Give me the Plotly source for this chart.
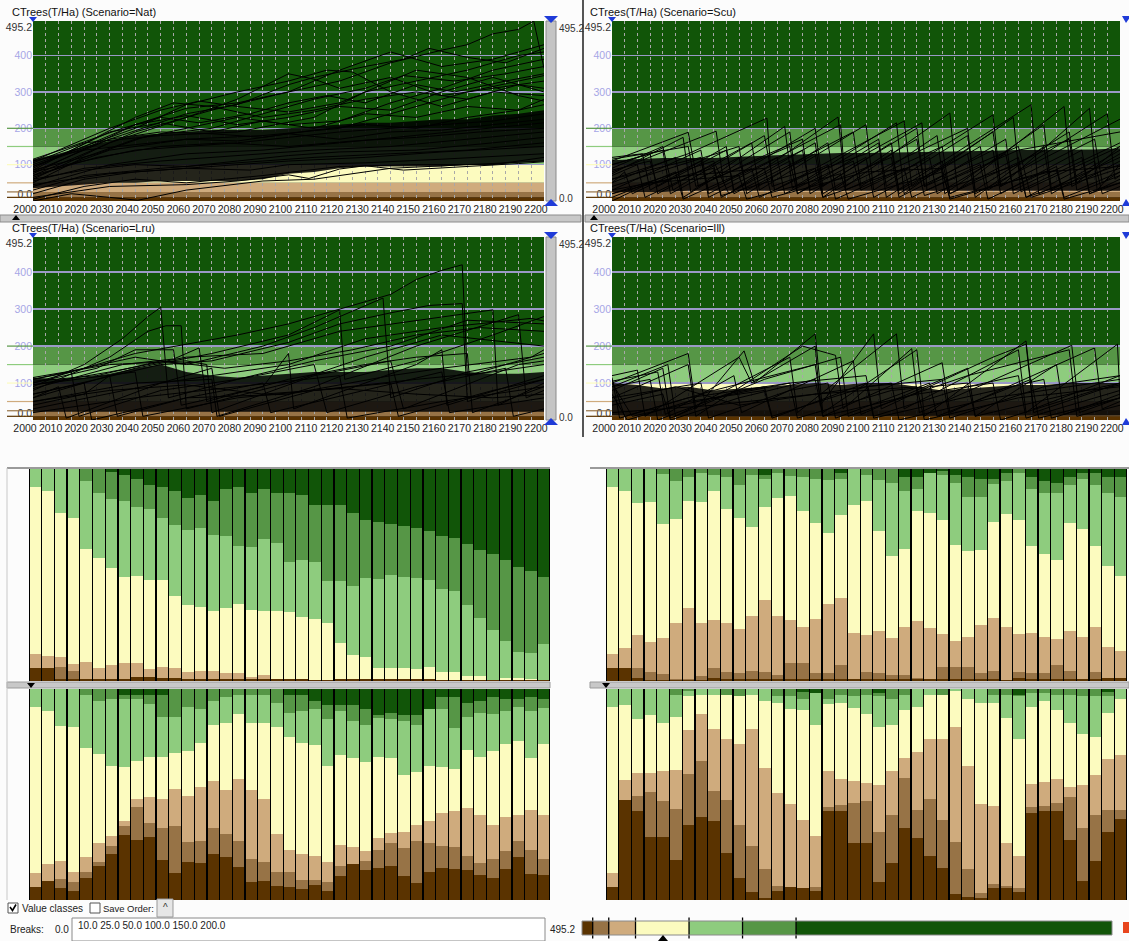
import plotly.graph_objects as go

# ---------------------------------------------------------------- data
BREAKS = [0.0, 10.0, 25.0, 50.0, 100.0, 150.0, 200.0, 495.2]
BREAK_TEXT = "10.0 25.0 50.0 100.0 150.0 200.0"
CLASS_COLORS = ["#5a3300", "#977346", "#cfab7d", "#fcfbbf", "#8ecc7e", "#569646", "#115508"]
SCENARIOS = ["Nat", "Scu", "Lru", "Ill"]
X_TICKS = list(range(2000, 2201, 10))
Y_TICKS = [0.0, 100, 200, 300, 400, 495.2]
BAR_YEARS = list(range(2000, 2201, 5))
DENSE_YEARS = list(range(2000, 2201, 10))

# dense core of the stand trajectories (lower / upper edge of the black mass)
NAT_DENSE_LO = [35, 40, 45, 50, 50, 55, 55, 55, 55, 60, 75, 80, 90, 95, 95, 95, 95, 100, 100, 105, 110]
NAT_DENSE_HI = [115, 130, 150, 165, 180, 185, 190, 195, 195, 195, 200, 205, 210, 215, 215, 220, 225, 225, 235, 240, 250]
SCU_DENSE_LO = [25, 25, 25, 28, 28, 28, 28, 28, 28, 28, 28, 28, 28, 28, 28, 28, 28, 28, 28, 28, 28]
SCU_DENSE_HI = [112, 115, 118, 118, 118, 122, 125, 128, 130, 132, 132, 133, 135, 135, 135, 138, 140, 140, 140, 142, 145]
LRU_DENSE_LO = [22, 22, 22, 22, 22, 22, 22, 22, 22, 22, 22, 22, 22, 22, 22, 22, 22, 22, 22, 22, 22]
LRU_DENSE_HI = [115, 110, 115, 125, 140, 150, 130, 120, 115, 120, 125, 130, 130, 130, 135, 140, 140, 130, 125, 125, 130]
ILL_DENSE_LO = [12, 10, 10, 10, 10, 10, 10, 10, 10, 10, 10, 10, 10, 10, 10, 10, 10, 10, 10, 10, 12]
ILL_DENSE_HI = [100, 95, 85, 90, 80, 85, 90, 95, 100, 95, 100, 100, 90, 80, 85, 90, 95, 95, 100, 100, 100]

# individual trajectories (year, CTrees) vertices
NAT_LINES = [
    [(2000, 95), (2020, 150), (2040, 210), (2060, 255), (2080, 270), (2100, 300), (2120, 330), (2140, 380), (2160, 415), (2170, 430), (2180, 460), (2190, 472), (2196, 495), (2200, 365)],
    [(2000, 80), (2030, 170), (2060, 240), (2080, 265), (2100, 320), (2110, 340), (2130, 370), (2145, 390), (2155, 420), (2170, 395), (2185, 380), (2200, 420)],
    [(2000, 70), (2040, 190), (2070, 250), (2100, 300), (2120, 360), (2140, 410), (2160, 370), (2180, 390), (2200, 430)],
    [(2000, 60), (2030, 160), (2060, 230), (2080, 280), (2100, 350), (2110, 335), (2120, 310), (2140, 340), (2160, 290), (2180, 310), (2200, 330)],
    [(2000, 100), (2040, 200), (2060, 265), (2080, 300), (2100, 330), (2115, 360), (2125, 355), (2140, 300), (2160, 260), (2180, 300), (2200, 290)],
    [(2000, 85), (2040, 230), (2055, 270), (2070, 260), (2090, 230), (2110, 250), (2130, 280), (2150, 300), (2170, 280), (2190, 320), (2200, 310)],
    [(2000, 110), (2030, 200), (2050, 250), (2065, 275), (2080, 260), (2100, 245), (2120, 270), (2140, 330), (2150, 360), (2170, 340), (2190, 290), (2200, 275)],
    [(2000, 75), (2040, 210), (2060, 235), (2080, 210), (2100, 230), (2120, 260), (2140, 250), (2160, 300), (2180, 340), (2200, 300)],
    [(2000, 90), (2030, 190), (2050, 215), (2070, 190), (2090, 220), (2110, 200), (2130, 240), (2150, 230), (2170, 260), (2190, 250), (2200, 280)],
    [(2000, 50), (2020, 120), (2040, 170), (2060, 200), (2080, 230), (2100, 210), (2120, 220), (2140, 270), (2160, 310), (2180, 360), (2200, 390)],
    [(2000, 105), (2020, 160), (2050, 180), (2080, 190), (2110, 230), (2130, 300), (2150, 330), (2170, 360), (2190, 400), (2200, 410)],
    [(2000, 65), (2030, 140), (2060, 170), (2090, 180), (2120, 200), (2150, 260), (2170, 300), (2190, 330), (2200, 345)],
    [(2000, 40), (2030, 100), (2060, 130), (2090, 140), (2120, 160), (2150, 180), (2180, 200), (2200, 215)],
    [(2000, 55), (2020, 90), (2050, 110), (2080, 125), (2110, 140), (2140, 150), (2170, 170), (2200, 190)],
    [(2000, 20), (2020, 60), (2040, 80), (2070, 95), (2100, 110), (2130, 120), (2160, 135), (2200, 150)],
    [(2000, 0), (2015, 20), (2030, 10), (2041, 2), (2060, 30), (2090, 55), (2110, 60), (2140, 90), (2170, 100), (2200, 110)],
    [(2000, 5), (2020, 40), (2040, 60), (2060, 50), (2090, 70), (2120, 95), (2150, 100), (2180, 100), (2200, 120)],
    [(2000, 80), (2020, 110), (2040, 140), (2060, 150), (2080, 160), (2100, 175), (2120, 190), (2140, 200), (2160, 210), (2180, 220), (2200, 240)],
    [(2000, 95), (2010, 120), (2030, 170), (2050, 190), (2070, 185), (2090, 175), (2110, 195), (2130, 210), (2150, 200), (2170, 230), (2190, 250), (2200, 265)],
    [(2000, 60), (2020, 85), (2040, 100), (2060, 95), (2080, 110), (2100, 125), (2120, 135), (2150, 140), (2180, 160), (2200, 175)],
    [(2000, 45), (2030, 75), (2060, 90), (2085, 85), (2100, 100), (2130, 105), (2160, 115), (2200, 130)],
    [(2000, 110), (2020, 140), (2040, 155), (2060, 170), (2080, 165), (2100, 185), (2120, 170), (2140, 190), (2160, 195), (2180, 210), (2200, 225)],
    [(2000, 70), (2025, 120), (2050, 150), (2075, 160), (2100, 150), (2125, 165), (2150, 175), (2175, 190), (2200, 200)],
    [(2000, 30), (2020, 70), (2050, 90), (2080, 105), (2110, 120), (2140, 130), (2170, 140), (2200, 160)],
    [(2000, 10), (2030, 40), (2060, 45), (2080, 55), (2100, 72), (2108, 62), (2120, 88), (2130, 97), (2145, 85), (2160, 90), (2175, 97), (2190, 103), (2200, 108)],
    [(2000, 115), (2015, 150), (2035, 200), (2050, 230), (2065, 215), (2085, 240), (2100, 270), (2115, 290), (2130, 270), (2150, 320), (2165, 300), (2185, 330), (2200, 350)],
    [(2000, 85), (2025, 130), (2045, 180), (2070, 200), (2095, 250), (2110, 280), (2130, 310), (2145, 345), (2165, 330), (2185, 350), (2200, 370)],
]

SCU_LINES = [
    [(2000, 60), (2030, 130), (2061, 228), (2063, 40), (2100, 130), (2122, 215), (2124, 30), (2160, 140), (2200, 190)],
    [(2000, 20), (2040, 110), (2046, 20), (2089, 231), (2092, 30), (2130, 150), (2133, 20), (2180, 170), (2183, 30), (2200, 80)],
    [(2000, 110), (2030, 189), (2034, 40), (2060, 125), (2075, 170), (2078, 20), (2120, 200), (2123, 40), (2160, 150), (2165, 10), (2200, 90)],
    [(2000, 80), (2041, 192), (2044, 50), (2080, 200), (2083, 40), (2110, 160), (2113, 20), (2150, 190), (2153, 40), (2190, 170), (2193, 50), (2200, 80)],
    [(2000, 30), (2035, 140), (2038, 20), (2090, 210), (2092, 40), (2133, 242), (2136, 30), (2178, 260), (2181, 40), (2200, 110)],
    [(2000, 50), (2025, 120), (2028, 10), (2070, 190), (2073, 20), (2105, 160), (2108, 10), (2165, 265), (2168, 20), (2200, 120)],
    [(2000, 100), (2015, 130), (2018, 20), (2055, 160), (2058, 30), (2100, 210), (2103, 30), (2150, 237), (2153, 40), (2188, 255), (2191, 30), (2200, 100)],
    [(2000, 90), (2020, 150), (2024, 30), (2060, 180), (2064, 30), (2115, 220), (2118, 40), (2145, 150), (2148, 30), (2195, 240), (2198, 60), (2200, 70)],
    [(2000, 40), (2050, 150), (2053, 20), (2085, 160), (2088, 30), (2140, 200), (2143, 20), (2200, 225)],
    [(2000, 70), (2010, 100), (2013, 10), (2040, 100), (2043, 10), (2070, 110), (2073, 20), (2100, 120), (2103, 10), (2130, 110), (2133, 20), (2160, 120), (2163, 10), (2190, 110), (2193, 20), (2200, 40)],
    [(2000, 10), (2025, 80), (2028, 5), (2055, 90), (2058, 10), (2085, 100), (2088, 5), (2115, 90), (2118, 10), (2145, 100), (2148, 5), (2175, 95), (2178, 10), (2200, 70)],
    [(2000, 100), (2020, 140), (2023, 20), (2050, 120), (2053, 30), (2080, 130), (2083, 10), (2110, 140), (2113, 30), (2140, 130), (2143, 10), (2170, 150), (2173, 20), (2200, 130)],
    [(2000, 50), (2005, 80), (2008, 20), (2035, 110), (2038, 30), (2065, 120), (2068, 20), (2095, 110), (2098, 30), (2125, 120), (2128, 20), (2155, 130), (2158, 30), (2185, 120), (2188, 20), (2200, 60)],
    [(2000, 115), (2030, 150), (2033, 40), (2070, 150), (2073, 40), (2105, 170), (2108, 40), (2140, 180), (2143, 30), (2180, 190), (2183, 50), (2200, 150)],
    [(2000, 30), (2030, 70), (2060, 90), (2063, 10), (2100, 80), (2130, 90), (2133, 5), (2170, 80), (2200, 95)],
    [(2000, 85), (2015, 110), (2018, 40), (2045, 140), (2048, 30), (2080, 160), (2083, 20), (2120, 170), (2123, 40), (2155, 170), (2158, 20), (2200, 160)],
    [(2000, 60), (2035, 120), (2038, 10), (2075, 140), (2078, 30), (2110, 120), (2113, 10), (2150, 140), (2153, 20), (2185, 140), (2188, 20), (2200, 50)],
    [(2000, 20), (2040, 90), (2043, 15), (2080, 90), (2083, 10), (2120, 100), (2123, 15), (2160, 100), (2163, 10), (2200, 100)],
    [(2000, 0), (2015, 50), (2050, 70), (2053, 5), (2090, 75), (2093, 5), (2130, 80), (2133, 10), (2175, 85), (2178, 5), (2200, 50)],
    [(2000, 120), (2012, 130), (2015, 30), (2045, 150), (2048, 20), (2095, 190), (2098, 40), (2128, 180), (2131, 20), (2170, 210), (2173, 30), (2200, 140)],
    [(2000, 75), (2028, 175), (2031, 25), (2068, 205), (2071, 35), (2112, 215), (2115, 20), (2158, 230), (2161, 25), (2200, 150)],
]

LRU_LINES = [
    [(2000, 100), (2040, 180), (2080, 230), (2100, 260), (2120, 300), (2140, 340), (2150, 380), (2160, 405), (2168, 420), (2170, 120), (2200, 180)],
    [(2000, 90), (2020, 150), (2035, 220), (2045, 280), (2050, 305), (2053, 60), (2080, 110), (2110, 160), (2140, 200), (2170, 270), (2200, 260)],
    [(2000, 80), (2030, 170), (2045, 240), (2052, 255), (2058, 255), (2060, 30), (2100, 100), (2130, 170), (2160, 230), (2200, 200)],
    [(2000, 110), (2020, 140), (2040, 170), (2060, 150), (2090, 200), (2110, 250), (2137, 330), (2140, 60), (2170, 130), (2200, 170)],
    [(2000, 70), (2050, 150), (2070, 160), (2100, 210), (2120, 260), (2140, 290), (2155, 310), (2168, 315), (2170, 50), (2200, 110)],
    [(2000, 60), (2040, 140), (2070, 180), (2100, 230), (2120, 298), (2122, 110), (2150, 160), (2180, 230), (2200, 280)],
    [(2000, 95), (2030, 130), (2060, 170), (2090, 180), (2120, 240), (2150, 270), (2180, 298), (2182, 40), (2200, 100)],
    [(2000, 50), (2040, 100), (2070, 110), (2072, 10), (2110, 90), (2150, 200), (2190, 285), (2193, 60), (2200, 80)],
    [(2000, 30), (2050, 100), (2100, 150), (2130, 220), (2160, 250), (2195, 275), (2200, 268)],
    [(2000, 115), (2030, 150), (2060, 160), (2068, 150), (2070, 20), (2110, 120), (2140, 160), (2145, 30), (2190, 150), (2200, 160)],
    [(2000, 100), (2025, 140), (2040, 190), (2055, 190), (2058, 40), (2090, 90), (2100, 180), (2102, 30), (2150, 150), (2160, 190), (2162, 40), (2200, 120)],
    [(2000, 85), (2035, 150), (2055, 165), (2065, 195), (2068, 50), (2100, 110), (2130, 150), (2150, 170), (2170, 180), (2172, 20), (2200, 90)],
    [(2000, 60), (2010, 90), (2013, 5), (2050, 100), (2070, 140), (2073, 10), (2110, 80), (2140, 100), (2143, 10), (2180, 80), (2200, 110)],
    [(2000, 40), (2020, 70), (2030, 120), (2033, 10), (2060, 60), (2090, 100), (2093, 20), (2130, 80), (2160, 130), (2163, 20), (2200, 60)],
    [(2000, 110), (2015, 130), (2018, 10), (2050, 80), (2080, 110), (2110, 150), (2115, 20), (2150, 90), (2185, 140), (2188, 10), (2200, 30)],
    [(2000, 20), (2040, 60), (2080, 90), (2120, 120), (2123, 5), (2160, 50), (2200, 90)],
    [(2000, 70), (2020, 100), (2023, 0), (2060, 60), (2100, 70), (2140, 120), (2160, 140), (2195, 170), (2200, 190)],
    [(2000, 95), (2040, 130), (2043, 10), (2080, 60), (2110, 80), (2150, 110), (2180, 130), (2200, 150)],
    [(2000, 50), (2030, 80), (2060, 95), (2090, 70), (2120, 85), (2150, 70), (2180, 60), (2200, 70)],
    [(2000, 105), (2025, 120), (2050, 160), (2075, 140), (2100, 160), (2125, 190), (2150, 230), (2175, 250), (2200, 240)],
]

ILL_LINES = [
    [(2000, 100), (2030, 180), (2033, 30), (2052, 187), (2056, 100), (2080, 233), (2083, 20), (2120, 190), (2123, 10), (2163, 214), (2166, 30), (2200, 120)],
    [(2000, 120), (2010, 135), (2013, 10), (2050, 170), (2055, 100), (2080, 200), (2082, 40), (2103, 233), (2106, 30), (2150, 170), (2163, 205), (2166, 20), (2200, 100)],
    [(2000, 90), (2022, 150), (2025, 10), (2070, 170), (2073, 20), (2112, 233), (2115, 30), (2160, 190), (2163, 20), (2199, 205), (2200, 60)],
    [(2000, 60), (2030, 150), (2033, 10), (2075, 200), (2088, 175), (2091, 30), (2118, 193), (2121, 20), (2181, 202), (2184, 20), (2200, 60)],
    [(2000, 110), (2005, 10), (2040, 80), (2080, 150), (2083, 10), (2130, 155), (2133, 20), (2190, 195), (2193, 30), (2200, 50)],
    [(2000, 80), (2020, 140), (2023, 5), (2060, 110), (2090, 170), (2093, 10), (2140, 120), (2180, 190), (2183, 10), (2200, 40)],
    [(2000, 100), (2008, 10), (2040, 60), (2070, 100), (2073, 5), (2110, 80), (2140, 100), (2143, 10), (2180, 70), (2200, 100)],
    [(2000, 70), (2006, 0), (2030, 50), (2060, 80), (2063, 5), (2100, 100), (2103, 5), (2150, 80), (2170, 110), (2173, 5), (2200, 60)],
    [(2000, 40), (2020, 70), (2023, 0), (2050, 60), (2080, 110), (2083, 10), (2120, 70), (2150, 100), (2153, 0), (2190, 80), (2200, 95)],
    [(2000, 90), (2015, 110), (2018, 0), (2045, 70), (2060, 90), (2063, 10), (2100, 90), (2130, 110), (2133, 5), (2170, 90), (2200, 120)],
    [(2000, 20), (2040, 40), (2080, 70), (2120, 90), (2123, 0), (2160, 60), (2200, 90)],
    [(2000, 115), (2003, 5), (2030, 60), (2070, 100), (2100, 120), (2103, 10), (2140, 90), (2160, 120), (2163, 5), (2200, 80)],
    [(2000, 60), (2035, 100), (2038, 5), (2070, 80), (2085, 100), (2088, 5), (2125, 100), (2128, 10), (2165, 110), (2168, 5), (2200, 60)],
    [(2000, 50), (2025, 90), (2050, 40), (2090, 80), (2110, 100), (2113, 0), (2150, 60), (2190, 100), (2200, 110)],
    [(2000, 105), (2018, 130), (2021, 15), (2048, 120), (2051, 20), (2095, 160), (2098, 15), (2140, 140), (2143, 10), (2175, 150), (2178, 15), (2200, 70)],
]

# share of stands (%), cumulated from the top class down, at the lower edge of
# classes: >200, 150-200, 100-150, 50-100, 25-50, 10-25 (rest = 0-10)
NAT_CUM = [
    (0, 0, 8.7, 87.3, 94.1, 94.1), (0, 0, 10.6, 88.1, 93.7, 93.7), (0, 0, 20.9, 88.9, 93.4, 98.9),
    (0, 0, 22.9, 91.8, 95.3, 99.2), (0, 5.5, 37.5, 91.1, 99.2, 99.2), (0, 11.4, 41.9, 93.7, 99.2, 99.2),
    (1.6, 14.2, 46.7, 92.6, 99.2, 99.2), (2.7, 15.0, 51.1, 91.5, 98.9, 98.9), (4.7, 18.0, 50.5, 91.5, 98.1, 98.1),
    (7.6, 18.8, 52.2, 94.5, 98.1, 98.1), (8.7, 22.9, 52.2, 93.4, 98.4, 98.4), (10.6, 26.6, 60.1, 93.7, 98.4, 98.4),
    (13.6, 29.0, 64.2, 95.9, 99.2, 99.2), (12.3, 27.7, 64.9, 95.4, 99.2, 99.2), (15.3, 30.9, 66.8, 95.4, 99.2, 99.2),
    (9.5, 31.5, 65.7, 96.2, 98.9, 98.9), (8.7, 36.4, 63.9, 96.2, 98.9, 98.9), (11.4, 37.0, 66.5, 98.1, 99.2, 99.2),
    (9.5, 33.2, 66.8, 97.3, 99.2, 99.2), (11.4, 35.1, 66.8, 99.2, 99.2, 99.2), (11.4, 43.7, 67.6, 99.2, 99.2, 99.2),
    (12.3, 43.0, 69.8, 99.2, 99.2, 99.2), (17.2, 44.1, 70.9, 99.7, 99.7, 99.7), (17.2, 52.7, 72.8, 99.7, 99.7, 99.7),
    (17.2, 52.7, 82.1, 99.2, 99.2, 99.2), (20.9, 55.4, 87.7, 98.9, 99.2, 99.2), (23.9, 51.6, 88.8, 99.2, 99.2, 99.2),
    (25.0, 51.9, 94.1, 99.2, 99.2, 99.2), (25.8, 49.8, 93.7, 99.2, 99.2, 99.2), (26.9, 50.8, 93.7, 99.2, 99.2, 99.2),
    (27.7, 51.6, 94.5, 98.9, 98.9, 98.9), (29.4, 52.2, 93.4, 98.9, 98.9, 98.9), (31.8, 56.8, 95.9, 99.7, 99.7, 99.7),
    (32.6, 57.4, 95.9, 99.7, 99.7, 99.7), (35.6, 64.2, 97.8, 99.7, 99.7, 99.7), (38.4, 70.1, 97.8, 99.7, 99.7, 99.7),
    (40.3, 75.8, 99.7, 99.7, 99.7, 99.7), (43.0, 81.3, 98.6, 99.7, 99.7, 99.7), (46.0, 86.2, 98.6, 99.7, 99.7, 99.7),
    (47.9, 86.9, 99.2, 99.7, 99.7, 99.7), (50.8, 82.6, 99.7, 99.7, 99.7, 99.7),
]
SCU_CUM = [
    (0, 0, 8.7, 87.3, 94.1, 94.1), (0, 0, 10.6, 84.5, 93.7, 93.7), (0, 0, 16.1, 78.3, 93.7, 98.4),
    (0, 0, 15.5, 81.5, 95.6, 99.7), (0, 2.2, 25.8, 79.6, 96.7, 99.7), (0, 5.7, 23.7, 72.5, 99.2, 99.7),
    (0, 3.8, 15.0, 65.7, 99.2, 99.7), (0, 1.9, 15.5, 72.8, 97.8, 99.7), (0, 2.7, 10.3, 71.2, 94.1, 98.4),
    (0, 3.8, 19.1, 72.8, 95.6, 99.2), (0, 7.6, 22.9, 75.5, 96.2, 99.2), (0, 2.7, 27.4, 69.3, 95.3, 99.2),
    (2.7, 4.7, 18.0, 62.0, 95.6, 99.2), (0, 1.9, 13.9, 69.3, 97.0, 99.2), (0, 3.5, 12.8, 71.2, 91.5, 99.2),
    (0, 3.8, 19.9, 74.4, 91.5, 99.2), (0, 4.6, 25.5, 70.7, 96.2, 99.2), (0, 5.2, 30.4, 63.8, 96.2, 99.2),
    (1.9, 4.6, 21.8, 60.8, 92.6, 99.2), (0, 0, 16.9, 77.4, 99.2, 99.2), (0, 2.7, 15.0, 78.3, 95.6, 99.2),
    (0, 5.4, 29.3, 76.3, 96.2, 99.2), (0, 6.8, 41.1, 79.6, 97.3, 99.2), (3.8, 10.6, 37.5, 74.7, 97.3, 99.2),
    (3.8, 9.5, 19.9, 71.7, 98.4, 99.2), (1.9, 1.9, 20.6, 75.2, 99.2, 99.2), (1.1, 2.7, 24.2, 78.0, 93.4, 99.2),
    (2.7, 6.5, 35.9, 81.2, 93.4, 99.2), (3.8, 13.1, 38.9, 79.1, 93.4, 99.2), (4.6, 13.1, 38.1, 73.6, 96.2, 99.2),
    (4.6, 7.1, 25.0, 70.1, 95.3, 99.2), (1.9, 5.7, 21.0, 74.7, 99.7, 99.7), (0, 1.9, 24.2, 78.0, 95.9, 98.4),
    (3.8, 9.5, 36.4, 77.4, 96.2, 99.2), (5.7, 11.2, 40.0, 79.1, 96.2, 99.2), (6.8, 11.2, 42.7, 80.4, 92.6, 99.2),
    (3.8, 7.6, 25.5, 76.3, 95.3, 99.2), (1.9, 4.6, 28.5, 79.1, 99.2, 99.2), (1.9, 7.6, 36.4, 74.7, 95.6, 99.2),
    (3.8, 11.2, 45.6, 84.0, 98.4, 98.4), (3.8, 13.1, 50.3, 85.9, 98.4, 98.4),
]
LRU_CUM = [
    (0, 0, 8.7, 87.2, 94.0, 94.0), (0, 0, 10.6, 83.1, 90.8, 90.8), (0, 0, 17.4, 81.4, 89.9, 94.3),
    (0, 0, 18.0, 86.9, 91.3, 95.9), (0, 2.7, 27.8, 79.5, 86.9, 89.6), (0, 5.7, 30.6, 72.8, 82.1, 84.0),
    (0, 4.6, 36.3, 69.7, 74.2, 78.0), (2.7, 4.6, 37.1, 62.7, 65.1, 69.0), (2.7, 4.6, 34.0, 52.0, 55.8, 71.7),
    (2.7, 7.1, 32.2, 51.3, 63.5, 70.1), (2.7, 13.1, 32.2, 52.3, 65.7, 81.0), (0, 13.1, 30.3, 47.6, 64.8, 87.2),
    (0, 8.7, 29.5, 50.6, 72.4, 81.8), (0, 9.5, 25.6, 46.3, 72.0, 82.5), (0, 5.7, 16.9, 43.6, 65.7, 78.0),
    (0, 3.8, 16.1, 47.9, 68.7, 79.8), (0, 2.7, 12.0, 42.7, 72.0, 84.2), (0, 2.7, 16.1, 47.9, 80.4, 91.3),
    (0, 2.7, 16.1, 52.3, 81.8, 91.0), (0, 6.8, 18.0, 68.7, 86.6, 93.2), (2.7, 11.2, 22.6, 76.3, 86.6, 94.0),
    (2.7, 10.3, 25.6, 78.0, 90.4, 94.8), (5.7, 9.5, 26.7, 79.0, 90.4, 92.9), (7.6, 14.2, 36.3, 82.1, 91.3, 95.9),
    (7.6, 10.6, 31.1, 73.8, 84.0, 88.8), (7.6, 15.0, 32.9, 74.9, 82.8, 82.8), (9.5, 16.9, 34.8, 76.9, 81.4, 85.8),
    (12.3, 13.9, 32.1, 70.6, 76.1, 84.7), (11.2, 14.2, 32.9, 68.4, 72.8, 84.0), (12.3, 15.0, 40.8, 67.6, 75.2, 88.5),
    (12.3, 16.9, 39.5, 64.5, 72.0, 91.9), (9.5, 9.5, 36.7, 62.4, 72.8, 86.9), (3.8, 9.5, 37.1, 58.9, 74.2, 84.7),
    (3.8, 18.6, 37.8, 57.8, 75.0, 85.5), (6.8, 13.4, 28.9, 56.2, 79.0, 85.8), (5.7, 11.2, 32.2, 59.7, 82.5, 88.0),
    (3.8, 12.0, 29.5, 64.3, 80.4, 89.6), (4.6, 10.3, 26.2, 60.5, 76.6, 85.1), (4.6, 8.4, 24.5, 59.7, 72.0, 79.5),
    (3.8, 10.3, 32.5, 57.5, 76.5, 87.7), (4.6, 9.0, 26.2, 59.7, 80.6, 88.0),
]
ILL_CUM = [
    (0, 0, 8.7, 87.2, 94.0, 94.0), (0, 0, 7.6, 43.0, 52.4, 52.4), (0, 0, 14.2, 40.0, 50.6, 57.7),
    (0, 0, 12.5, 40.0, 48.7, 70.3), (0, 0, 16.1, 38.9, 52.9, 70.0), (0, 2.7, 13.1, 38.2, 57.0, 80.9),
    (0, 0.8, 3.5, 19.6, 40.4, 64.3), (0, 0, 2.7, 12.0, 34.0, 60.8), (0, 0, 2.7, 18.8, 48.2, 62.4),
    (0, 2.7, 2.7, 23.7, 52.4, 77.9), (0, 3.5, 3.5, 26.2, 64.5, 89.6), (0, 0, 2.7, 18.8, 74.2, 96.2),
    (0, 0, 5.7, 37.4, 85.1, 99.1), (0, 3.5, 6.5, 49.4, 93.2, 95.9), (0, 3.5, 9.5, 54.5, 94.0, 94.0),
    (1.6, 4.6, 10.1, 61.9, 94.3, 94.3), (1.9, 1.9, 17.2, 69.7, 93.7, 95.6), (0, 4.6, 7.1, 38.7, 56.1, 58.0),
    (0, 2.7, 6.5, 42.7, 54.8, 57.7), (0, 3.5, 9.0, 43.4, 53.9, 72.8), (0, 2.7, 12.0, 44.4, 52.9, 73.1),
    (1.9, 3.5, 18.0, 45.7, 67.6, 91.3), (0, 4.6, 16.9, 38.9, 59.9, 82.5), (0, 2.7, 10.1, 32.9, 42.2, 66.0),
    (0, 0, 8.7, 29.7, 57.2, 70.5), (0, 0, 2.7, 23.7, 52.3, 79.1), (0, 2.7, 2.7, 23.7, 62.1, 84.7),
    (0, 0, 0.8, 18.0, 72.5, 97.3), (0, 0, 4.6, 36.3, 85.1, 98.4), (0, 0, 6.8, 54.5, 96.7, 99.1),
    (0, 2.7, 6.5, 55.3, 92.4, 94.3), (0, 2.7, 13.9, 73.1, 93.4, 94.3), (2.7, 3.5, 23.7, 79.0, 94.3, 96.2),
    (0, 1.9, 8.7, 45.0, 56.1, 58.6), (0, 1.9, 5.7, 44.1, 55.3, 58.0), (0, 2.7, 10.1, 42.7, 53.9, 57.7),
    (0, 2.7, 16.1, 46.6, 51.2, 71.4), (0, 3.5, 21.3, 45.3, 66.0, 91.0), (0, 3.5, 22.9, 40.8, 59.9, 81.7),
    (1.6, 3.5, 11.2, 33.2, 57.3, 67.6), (0, 0, 4.6, 31.4, 57.3, 61.6),
]

# ---------------------------------------------------------------- layout helpers
W, H = 1129, 941
FONT = "Liberation Sans, Arial, sans-serif"


def px(x):
    return x / W


def py(y):
    return 1 - y / H


def ids(i):
    return ("x" if i == 1 else f"x{i}"), ("y" if i == 1 else f"y{i}")


def akeys(i):
    return ("xaxis" if i == 1 else f"xaxis{i}"), ("yaxis" if i == 1 else f"yaxis{i}")


def path(pts):
    return "M " + " L ".join(f"{px(a):.5f},{py(b):.5f}" for a, b in pts) + " Z"


fig = go.Figure()
shapes = []
annotations = []
layout_axes = {}

LINE_PANELS = [
    (1, NAT_LINES, NAT_DENSE_LO, NAT_DENSE_HI, (33, 544), (21, 201), 10),
    (2, SCU_LINES, SCU_DENSE_LO, SCU_DENSE_HI, (612, 1120), (21, 201), 588),
    (3, LRU_LINES, LRU_DENSE_LO, LRU_DENSE_HI, (33, 544), (237, 420), 10),
    (4, ILL_LINES, ILL_DENSE_LO, ILL_DENSE_HI, (612, 1120), (237, 420), 588),
]

ytext = []
for v in Y_TICKS:
    if v == 0.0:
        ytext.append("0.0<br> ")          # label sits just above the bottom edge
    elif v == 495.2:
        ytext.append(" <br>495.2")        # label sits just below the top edge
    else:
        ytext.append(f"<span style='color:#a6a6e6'>{int(v)}</span>")

for (i, lines, lo, hi, (x0, x1), (y0, y1), tx), scen in zip(LINE_PANELS, SCENARIOS):
    xa, ya = ids(i)
    kx, ky = akeys(i)
    # dense core
    fig.add_trace(go.Scatter(x=DENSE_YEARS, y=lo, mode="lines", line=dict(width=0, color="black"),
                             xaxis=xa, yaxis=ya, hoverinfo="skip", showlegend=False))
    fig.add_trace(go.Scatter(x=DENSE_YEARS, y=hi, mode="lines", line=dict(width=0, color="black"),
                             fill="tonexty", fillcolor="rgba(0,0,0,0.86)",
                             xaxis=xa, yaxis=ya, hoverinfo="skip", showlegend=False))
    for ln in lines:
        fig.add_trace(go.Scatter(x=[p[0] for p in ln], y=[p[1] for p in ln], mode="lines",
                                 line=dict(width=1, color="black"),
                                 xaxis=xa, yaxis=ya, hoverinfo="skip", showlegend=False))
    # class bands
    for k in range(7):
        shapes.append(dict(type="rect", xref=f"{xa} domain", yref=ya, x0=0, x1=1,
                           y0=BREAKS[k], y1=BREAKS[k + 1], fillcolor=CLASS_COLORS[k],
                           line=dict(width=0), layer="below"))
    # break markers in the left margin
    for k in range(1, 7):
        shapes.append(dict(type="line", xref="paper", yref=ya, x0=px(x0 - 26), x1=px(x0),
                           y0=BREAKS[k], y1=BREAKS[k], line=dict(color=CLASS_COLORS[k - 1], width=1.2)))
    layout_axes[kx] = dict(domain=[px(x0), px(x1)], range=[2000, 2200], anchor=ya,
                           tickvals=X_TICKS, ticktext=[str(t) for t in X_TICKS], tickangle=0,
                           tickfont=dict(size=10.5, color="#222"), ticks="", ticklabelshift=-8,
                           showgrid=True, gridcolor="#a8a8a8", gridwidth=1, griddash="3px,3px",
                           minor=dict(dtick=5, tick0=2000, showgrid=True, gridcolor="#a8a8a8",
                                      gridwidth=1, griddash="3px,3px"),
                           zeroline=False, showline=False, fixedrange=True, automargin=False)
    layout_axes[ky] = dict(domain=[py(y1), py(y0)], range=[0, 495.2], anchor=xa,
                           tickvals=Y_TICKS, ticktext=ytext, tickfont=dict(size=10.5, color="#333"),
                           ticks="", showgrid=True, gridcolor="#9a9ac6", gridwidth=1.5,
                           zeroline=False, showline=False, fixedrange=True, automargin=False)
    annotations.append(dict(text=f"CTrees(T/Ha) (Scenario={scen})", xref="paper", yref="paper",
                            x=px(tx), y=py(y0 - 9), xanchor="left", yanchor="middle", showarrow=False,
                            font=dict(size=11, color="#111")))
    # small blue marker at top-left of plot
    shapes.append(dict(type="path", xref="paper", yref="paper",
                       path=path([(x0 - 4, y0 - 4), (x0 + 4, y0 - 4), (x0, y0 + 1)]),
                       fillcolor="#1f3bd8", line=dict(width=0)))
    if x1 < 600:
        # vertical range scroller on the right
        shapes.append(dict(type="rect", xref="paper", yref="paper", x0=px(546), x1=px(556),
                           y0=py(y1), y1=py(y0), fillcolor="#c4c4c4", line=dict(color="#8a8a8a", width=1)))
        shapes.append(dict(type="path", xref="paper", yref="paper",
                           path=path([(544, y0 - 5), (558, y0 - 5), (551, y0 + 2)]),
                           fillcolor="#1f3bd8", line=dict(width=0)))
        shapes.append(dict(type="path", xref="paper", yref="paper",
                           path=path([(544, y1 + 5), (558, y1 + 5), (551, y1 - 2)]),
                           fillcolor="#1f3bd8", line=dict(width=0)))
        for txt, yy in (("495.2", y0 + 7), ("0.0", y1 - 3)):
            annotations.append(dict(text=txt, xref="paper", yref="paper", x=px(557), y=py(yy),
                                    xanchor="left", yanchor="middle", showarrow=False,
                                    font=dict(size=10, color="#333")))
    else:
        for yy, pts in ((y0, [(1122, y0 - 5), (1131, y0 - 5), (1126, y0 + 2)]),
                        (y1, [(1122, y1 + 5), (1131, y1 + 5), (1126, y1 - 2)])):
            shapes.append(dict(type="path", xref="paper", yref="paper", path=path(pts),
                               fillcolor="#1f3bd8", line=dict(width=0)))


# ---------------------------------------------------------------- stacked bar panels
def class_shares(cum_rows):
    shares = [[] for _ in range(7)]
    for row in cum_rows:
        b = [0.0] + list(row) + [100.0]
        seg = [b[j + 1] - b[j] for j in range(7)]  # top class first
        for k in range(7):
            shares[k].append(seg[6 - k])
    return shares


BAR_PANELS = [
    (5, NAT_CUM, (29, 550), (469, 681)),
    (6, SCU_CUM, (606, 1127), (469, 681)),
    (7, LRU_CUM, (29, 550), (689, 900)),
    (8, ILL_CUM, (606, 1127), (689, 900)),
]
for i, cum, (x0, x1), (y0, y1) in BAR_PANELS:
    xa, ya = ids(i)
    kx, ky = akeys(i)
    sh = class_shares(cum)
    for k in range(7):
        fig.add_trace(go.Bar(x=BAR_YEARS, y=sh[k], width=4.5, marker=dict(color=CLASS_COLORS[k], line=dict(width=0)),
                             xaxis=xa, yaxis=ya, hoverinfo="skip", showlegend=False))
    layout_axes[kx] = dict(domain=[px(x0), px(x1)], range=[1997.5, 2202.5], anchor=ya, visible=False,
                           fixedrange=True, automargin=False)
    layout_axes[ky] = dict(domain=[py(y1), py(y0)], range=[0, 100], anchor=xa, visible=False,
                           fixedrange=True, automargin=False)

# ---------------------------------------------------------------- colour ramp (legend of classes)
for k in range(7):
    fig.add_trace(go.Bar(x=[BREAKS[k + 1] - BREAKS[k]], y=[0], orientation="h", width=1,
                         marker=dict(color=CLASS_COLORS[k], line=dict(width=0)),
                         xaxis="x9", yaxis="y9", hoverinfo="skip", showlegend=False))
inner = BREAKS[1:7]
fig.add_trace(go.Scatter(x=inner, y=[0] * 6, mode="markers", xaxis="x9", yaxis="y9", cliponaxis=False,
                         marker=dict(symbol="line-ns", size=15, line=dict(width=1.3, color="black")),
                         hoverinfo="skip", showlegend=False))
fig.add_trace(go.Scatter(x=inner, y=[0.55] * 6, mode="markers", xaxis="x9", yaxis="y9", cliponaxis=False,
                         marker=dict(symbol="triangle-down", size=5, color="black"),
                         hoverinfo="skip", showlegend=False))
fig.add_trace(go.Scatter(x=inner, y=[-0.55] * 6, mode="markers", xaxis="x9", yaxis="y9", cliponaxis=False,
                         marker=dict(symbol="triangle-up", size=5, color="black"),
                         hoverinfo="skip", showlegend=False))
layout_axes["xaxis9"] = dict(domain=[px(582), px(1112)], range=[0, 495.2], anchor="y9", visible=False,
                             fixedrange=True, automargin=False)
layout_axes["yaxis9"] = dict(domain=[py(935), py(921)], range=[-0.5, 0.5], anchor="x9", visible=False,
                             fixedrange=True, automargin=False)
shapes.append(dict(type="rect", xref="paper", yref="paper", x0=px(582), x1=px(1112), y0=py(935), y1=py(921),
                   line=dict(color="#8a8a8a", width=1)))

# ---------------------------------------------------------------- window chrome
# separators between rows of line panels
for xa0, xa1, tri_x in ((0, 581, 16), (585, 1129, 594)):
    shapes.append(dict(type="rect", xref="paper", yref="paper", x0=px(xa0), x1=px(xa1), y0=py(222), y1=py(215),
                       fillcolor="#c8c8c8", line=dict(color="#8c8c8c", width=1)))
    shapes.append(dict(type="path", xref="paper", yref="paper",
                       path=path([(tri_x - 4, 220), (tri_x + 4, 220), (tri_x, 215)]),
                       fillcolor="black", line=dict(width=0)))
shapes.append(dict(type="line", xref="paper", yref="paper", x0=px(583), x1=px(583), y0=py(0), y1=py(437),
                   line=dict(color="#555555", width=2)))
# bar panel frames
for xa0, xa1, tri_x in ((7, 550, 31), (590, 1129, 606)):
    shapes.append(dict(type="line", xref="paper", yref="paper", x0=px(xa0), x1=px(xa1), y0=py(468), y1=py(468),
                       line=dict(color="#9a9a9a", width=2)))
    shapes.append(dict(type="rect", xref="paper", yref="paper", x0=px(xa0), x1=px(xa1), y0=py(688), y1=py(682),
                       fillcolor="#c8c8c8", line=dict(color="#9a9a9a", width=1)))
    shapes.append(dict(type="path", xref="paper", yref="paper",
                       path=path([(tri_x - 4, 683), (tri_x + 4, 683), (tri_x, 688)]),
                       fillcolor="black", line=dict(width=0)))
shapes.append(dict(type="line", xref="paper", yref="paper", x0=px(7), x1=px(7), y0=py(468), y1=py(900),
                   line=dict(color="#c8c8c8", width=1)))

# controls
for cx in (8, 90):
    shapes.append(dict(type="rect", xref="paper", yref="paper", x0=px(cx), x1=px(cx + 10), y0=py(913), y1=py(903),
                       fillcolor="white", line=dict(color="#555", width=1)))
shapes.append(dict(type="path", xref="paper", yref="paper",
                   path="M " + " L ".join(f"{px(a):.5f},{py(b):.5f}" for a, b in [(10, 907), (12.5, 910.5), (16, 904.5)]),
                   line=dict(color="black", width=1.6)))
shapes.append(dict(type="rect", xref="paper", yref="paper", x0=px(157), x1=px(173), y0=py(917), y1=py(899),
                   fillcolor="#e6e6e6", line=dict(color="#999", width=1)))
shapes.append(dict(type="rect", xref="paper", yref="paper", x0=px(72), x1=px(545), y0=py(941), y1=py(918),
                   fillcolor="white", line=dict(color="#8a8a8a", width=1)))
shapes.append(dict(type="rect", xref="paper", yref="paper", x0=px(1123), x1=px(1130), y0=py(933), y1=py(922),
                   fillcolor="#e8461e", line=dict(width=0)))
shapes.append(dict(type="path", xref="paper", yref="paper", path=path([(658, 941), (668, 941), (663, 935)]),
                   fillcolor="black", line=dict(width=0)))

for txt, x, y, fs in (("Value classes", 20, 908, 10), ("Save", 101, 908, 9.5), ("Order:", 125, 908, 9.5),
                      ("Breaks:", 8, 929, 10), ("0.0", 53, 929, 10), (BREAK_TEXT, 76, 925, 10),
                      ("495.2", 548, 929, 10)):
    annotations.append(dict(text=txt, xref="paper", yref="paper", x=px(x), y=py(y), xanchor="left",
                            yanchor="middle", showarrow=False, font=dict(size=fs, color="#222")))
annotations.append(dict(text="^", xref="paper", yref="paper", x=px(165), y=py(907), xanchor="center",
                        yanchor="middle", showarrow=False, font=dict(size=10, color="#333")))

fig.update_layout(
    width=W, height=H, autosize=False,
    margin=dict(l=0, r=0, t=0, b=0, pad=0),
    paper_bgcolor="#fcfcfc", plot_bgcolor="black",
    barmode="stack", bargap=0,
    font=dict(family=FONT, size=11, color="#222"),
    shapes=shapes, annotations=annotations, showlegend=False,
    **layout_axes,
)

fig.write_html("out.html", config={"displayModeBar": False, "staticPlot": True},
               post_script="document.body.style.margin='0px';document.body.style.overflow='hidden';")
